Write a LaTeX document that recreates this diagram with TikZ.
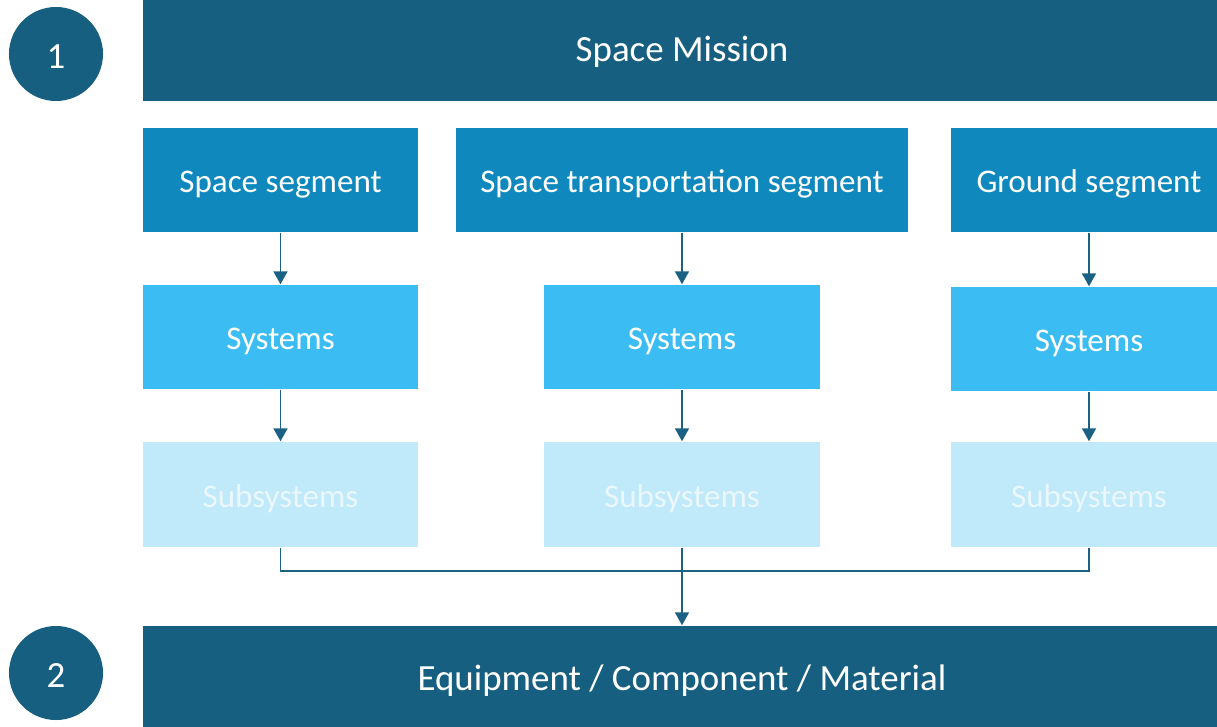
\documentclass[tikz,border=0pt]{standalone}
\usepackage{fontspec}
\setmainfont{Carlito}
\usetikzlibrary{arrows.meta}
\definecolor{darkblue}{HTML}{175F80}
\definecolor{segblue}{HTML}{0E88BD}
\definecolor{sysblue}{HTML}{3BBDF3}
\definecolor{subblue}{HTML}{C0E9F9}
\definecolor{subtext}{HTML}{EAF7FD}
\definecolor{linkblue}{HTML}{1B6184}
\begin{document}
\begin{tikzpicture}
[
 x=0.01cm, y=-0.01cm,
 inner sep=0mm,
 NUMCIRC/.style={circle, fill=darkblue, minimum size=9.4mm, text=white, text height=8pt, text depth=0pt, font=\fontsize{10.5}{12}\selectfont},
 BAR/.style={rectangle, fill=darkblue, minimum width=107.8mm, text=white, text height=8pt, text depth=0pt, font=\fontsize{10.5}{12}\selectfont},
 SEGBOX/.style={rectangle, fill=segblue, minimum height=10.4mm, text=white, text height=7.3pt, text depth=0pt, font=\fontsize{9.4}{11}\selectfont},
 SYSBOX/.style={rectangle, fill=sysblue, minimum height=10.4mm, text=white, text height=7.3pt, text depth=0pt, font=\fontsize{9.4}{11}\selectfont},
 SUBBOX/.style={rectangle, fill=subblue, minimum height=10.5mm, text=subtext, text height=7.3pt, text depth=0pt, font=\fontsize{9.4}{11}\selectfont},
 LINK/.style={draw=linkblue, line width=0.55pt},
 ARROW/.style={LINK, -{Triangle[length=1.3mm, width=1.4mm]}},
 ],
%
\useasboundingbox (0,0) rectangle (1217,727);
\clip (0,0) rectangle (1217,727);
%
\node [NUMCIRC]  (ONE)    at (  56,  54)  {1};
\node [NUMCIRC]  (TWO)    at (  56, 673)  {2};
%
\node [BAR, minimum height=10.8mm]  (MISSION) at ( 682, 47)    {Space Mission};
\node [BAR, minimum height=10.1mm]  (EQUIP)   at ( 682, 676.5) {Equipment / Component / Material};
%
\node [SEGBOX, minimum width=27.5mm]  (SEGA)  at (280.5, 180)  {Space segment};
\node [SEGBOX, minimum width=45.2mm]  (SEGB)  at (  682, 180)  {Space transportation segment};
\node [SEGBOX, minimum width=27.6mm]  (SEGC)  at ( 1089, 180)  {Ground segment};
%
\node [SYSBOX, minimum width=27.5mm]  (SYSA)  at (280.5, 337)  {Systems};
\node [SYSBOX, minimum width=27.5mm]  (SYSB)  at (  682, 337)  {Systems};
\node [SYSBOX, minimum width=27.6mm]  (SYSC)  at ( 1089, 339)  {Systems};
%
\node [SUBBOX, minimum width=27.5mm]  (SUBA)  at (280.5, 494.5)  {Subsystems};
\node [SUBBOX, minimum width=27.5mm]  (SUBB)  at (  682, 494.5)  {Subsystems};
\node [SUBBOX, minimum width=27.6mm]  (SUBC)  at ( 1089, 494.5)  {Subsystems};
%
\coordinate (JOIN) at (682, 571);
%
\draw [ARROW]  (SEGA.south)  -- (SYSA.north) ;
\draw [ARROW]  (SEGB.south)  -- (SYSB.north) ;
\draw [ARROW]  (SEGC.south)  -- (SYSC.north) ;
%
\draw [ARROW]  (SYSA.south)  -- (SUBA.north) ;
\draw [ARROW]  (SYSB.south)  -- (SUBB.north) ;
\draw [ARROW]  (SYSC.south)  -- (SUBC.north) ;
%
\draw [LINK]   (SUBA.south)  |- (JOIN) -| (SUBC.south) ;
\draw [ARROW]  (SUBB.south)  -- (EQUIP.north) ;
%
\end{tikzpicture}
\end{document}
